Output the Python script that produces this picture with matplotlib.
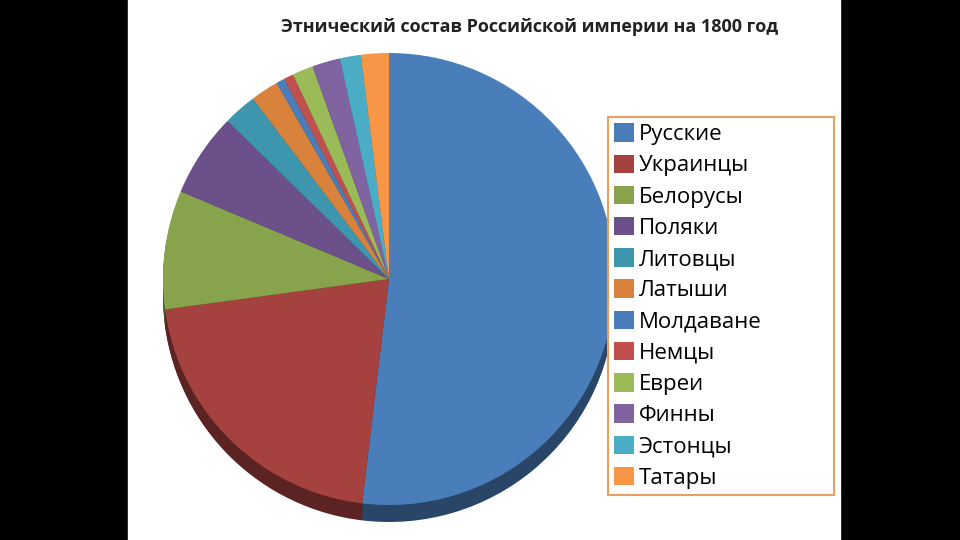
import matplotlib
matplotlib.use("Agg")
import matplotlib.pyplot as plt
import numpy as np
from matplotlib.patches import Rectangle

labels = ["Русские","Украинцы","Белорусы","Поляки","Литовцы","Латыши","Молдаване","Немцы","Евреи","Финны","Эстонцы","Татары"]
values = [52, 21, 8.5, 6, 2.4, 2, 0.6, 0.7, 1.5, 2, 1.5, 2]
colors = ["#4A7EBB","#A5413E","#87A44D","#6C5089","#3D96AD","#D8823C","#4A7EBB","#C0504D","#9BBB59","#8064A2","#4BACC6","#F79646"]

plt.rcParams['font.family'] = ['Open Sans', 'DejaVu Sans']
fig = plt.figure(figsize=(9.6,5.4), dpi=100, facecolor='black')
ax = fig.add_axes([0,0,1,1])
ax.set_xlim(0,960); ax.set_ylim(0,540); ax.set_aspect('equal'); ax.axis('off')
ax.add_patch(Rectangle((128,0),712,540,color='white',zorder=0))

cx, cy, r = 389, 540-279, 226
dark = [tuple(np.array(matplotlib.colors.to_rgb(c))*0.55) for c in colors]
ax.pie(values, colors=dark, startangle=90, counterclock=False, center=(cx, cy-17), radius=r,
       wedgeprops=dict(linewidth=0), frame=True)
for dy in range(16, 0, -2):
    ax.pie(values, colors=dark, startangle=90, counterclock=False, center=(cx, cy-dy), radius=r,
           wedgeprops=dict(linewidth=0), frame=True)
wedges, _ = ax.pie(values, colors=colors, startangle=90, counterclock=False, center=(cx, cy), radius=r,
       wedgeprops=dict(linewidth=0), frame=True)
ax.set_xlim(0,960); ax.set_ylim(0,540); ax.axis('off')

ax.text(530, 540-27, "Этнический состав Российской империи на 1800 год", ha='center', va='center',
        fontsize=13, fontweight='bold', color='#222222')

leg = fig.legend(wedges, labels, loc='upper left', bbox_to_anchor=(0.633, 0.041, 0.236, 0.743),
                 mode='expand', fontsize=16, labelspacing=0.42, handlelength=0.9, handleheight=0.9,
                 handletextpad=0.2, borderaxespad=0, borderpad=0.3, fancybox=False, framealpha=1)
leg.get_frame().set_edgecolor('#E8A060'); leg.get_frame().set_linewidth(1.5)
fig.savefig("out.png", dpi=100, facecolor='black')
